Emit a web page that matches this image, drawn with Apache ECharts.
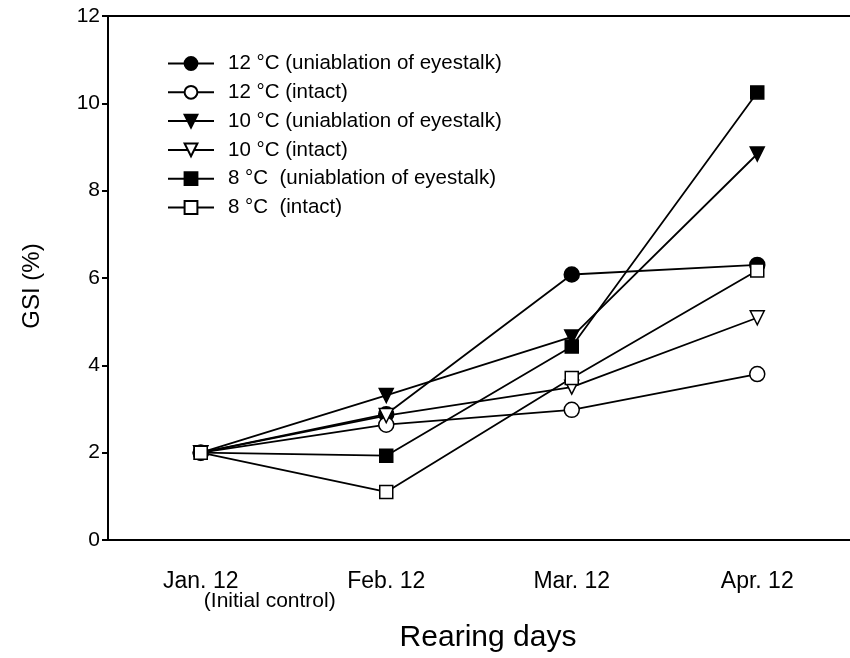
<!DOCTYPE html>
<html>
<head>
<meta charset="utf-8">
<script src="https://cdn.jsdelivr.net/npm/echarts@6/dist/echarts.min.js"></script>
<style>
  html, body { margin: 0; padding: 0; background: #fff; }
  #chart { width: 850px; height: 658px; }
</style>
</head>
<body>
<div id="chart"></div>
<script>
// Sampling dates (tick labels on the x axis)
const months = ['Jan. 12', 'Feb. 12', 'Mar. 12', 'Apr. 12'];
const yTicks = [0, 2, 4, 6, 8, 10, 12];

// Gonadosomatic index (%) per treatment
const gsi12Ablated = [2.0, 2.88, 6.08, 6.30];
const gsi12Intact  = [2.0, 2.64, 2.98, 3.80];
const gsi10Ablated = [2.0, 3.31, 4.65, 8.84];
const gsi10Intact  = [2.0, 2.85, 3.50, 5.09];
const gsi8Ablated  = [2.0, 1.93, 4.43, 10.25];
const gsi8Intact   = [2.0, 1.10, 3.71, 6.17];

const seriesNames = [
  '12 °C (uniablation of eyestalk)',
  '12 °C (intact)',
  '10 °C (uniablation of eyestalk)',
  '10 °C (intact)',
  '8 °C  (uniablation of eyestalk)',
  '8 °C  (intact)'
];

const FONT = '"Liberation Sans", Arial, sans-serif';

function makeSeries(name, data, symbol, filled, size, rotate) {
  return {
    name: name,
    type: 'line',
    data: data,
    symbol: symbol,
    symbolSize: size,
    symbolRotate: rotate || 0,
    showAllSymbol: true,
    lineStyle: { color: '#000', width: 1.8 },
    itemStyle: {
      color: filled ? '#000' : '#fff',
      borderColor: '#000',
      borderWidth: 1.5
    },
    emphasis: { disabled: true },
    animation: false
  };
}

const chart = echarts.init(document.getElementById('chart'), null, { renderer: 'canvas' });

chart.setOption({
  backgroundColor: '#fff',
  animation: false,
  grid: {
    left: 108,
    right: -8,
    top: 16,
    bottom: 111
  },
  legend: {
    orient: 'vertical',
    left: 167,
    top: 53,
    padding: 0,
    itemWidth: 46,
    itemHeight: 16,
    itemGap: 7.8,
    selectedMode: false,
    textStyle: {
      fontFamily: FONT, fontSize: 20.5, color: '#000', lineHeight: 20,
      padding: [0, 0, 0, 9]
    },
    data: seriesNames
  },
  xAxis: [
    {
      type: 'category',
      data: months,
      boundaryGap: true,
      name: 'Rearing days',
      nameLocation: 'middle',
      nameGap: 83,
      nameTextStyle: { fontFamily: FONT, fontSize: 30, color: '#000', padding: [0, 0, 0, 18] },
      axisLine: { lineStyle: { color: '#000', width: 2 } },
      axisTick: { alignWithLabel: true, length: 7, lineStyle: { color: '#000', width: 2 } },
      axisLabel: {
        interval: 0,
        margin: 31,
        color: '#000',
        fontFamily: FONT,
        fontSize: 23,
        formatter: function (v, i) {
          return i === 0 ? '{m|' + v + '}\n{sub|(Initial control)}' : '{m|' + v + '}';
        },
        rich: {
          m: { fontFamily: FONT, fontSize: 23, color: '#000', lineHeight: 21 },
          sub: { fontFamily: FONT, fontSize: 21, color: '#000', lineHeight: 19, padding: [0, 0, 0, 138] }
        }
      },
      splitLine: { show: false }
    },
    {
      // top frame edge
      type: 'category',
      data: months,
      position: 'top',
      axisLine: { show: true, lineStyle: { color: '#000', width: 2 } },
      axisTick: { show: false },
      axisLabel: { show: false },
      splitLine: { show: false }
    }
  ],
  yAxis: {
    type: 'value',
    min: 0,
    max: 12,
    interval: 2,
    name: 'GSI (%)',
    nameLocation: 'middle',
    nameGap: 64,
    nameRotate: 90,
    nameTextStyle: { fontFamily: FONT, fontSize: 24, color: '#000', padding: [0, 16, 0, 0] },
    axisLine: { show: true, lineStyle: { color: '#000', width: 2 } },
    axisTick: { show: true, inside: false, length: 6, lineStyle: { color: '#000', width: 2 } },
    axisLabel: {
      margin: 8,
      color: '#000',
      fontFamily: FONT,
      fontSize: 21,
      customValues: yTicks
    },
    splitLine: { show: false }
  },
  series: [
    makeSeries(seriesNames[0], gsi12Ablated, 'circle', true, 15),
    makeSeries(seriesNames[1], gsi12Intact, 'circle', false, 15),
    makeSeries(seriesNames[2], gsi10Ablated, 'triangle', true, 14, 180),
    makeSeries(seriesNames[3], gsi10Intact, 'triangle', false, 14, 180),
    makeSeries(seriesNames[4], gsi8Ablated, 'rect', true, 13),
    makeSeries(seriesNames[5], gsi8Intact, 'rect', false, 13)
  ]
});
</script>
</body>
</html>
